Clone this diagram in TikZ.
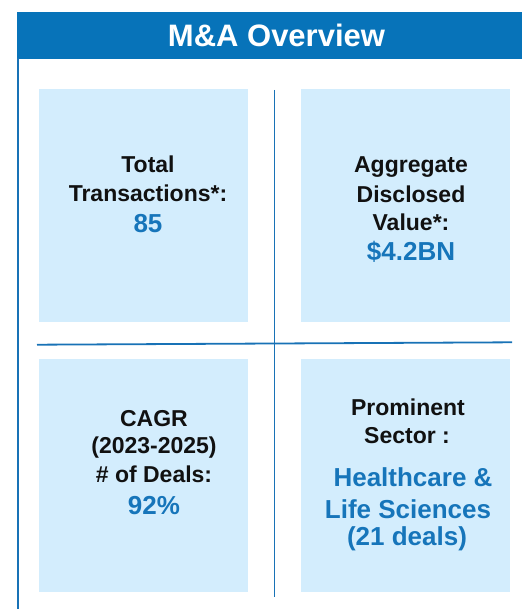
\documentclass[tikz,border=0pt]{standalone}
\usepackage{fontspec}
\setmainfont{Liberation Sans}
\newfontfamily\bluefnt{Liberation Sans}
\definecolor{hdrblue}{HTML}{0773B9}
\definecolor{boxfill}{HTML}{D3EDFD}
\definecolor{valblue}{HTML}{1675BA}
\definecolor{lineblue}{HTML}{1872B6}
\definecolor{txtblack}{HTML}{111111}
\tikzset{
  panelbox/.style={fill=boxfill, draw=none, minimum width=209pt, minimum height=233pt, inner sep=0pt, anchor=north west},
  lbl/.style={anchor=base, inner sep=0pt, text=txtblack, font=\fontsize{23}{28}\selectfont\bfseries},
  val/.style={anchor=base, inner sep=0pt, text=valblue, font=\fontsize{26}{30}\selectfont\bluefnt\bfseries},
  divider/.style={draw=lineblue, line width=1.8pt},
}
\begin{document}
\begin{tikzpicture}[x=1pt,y=-1pt]
\useasboundingbox (0,0) rectangle (522,609);
% frame and header
\node[fill=hdrblue, draw=none, inner sep=0pt, minimum width=505.5pt, minimum height=47pt, anchor=north west] (hdr) at (16.5,11.5) {};
\node[anchor=base, inner sep=0pt, text=white, font=\fontsize{31}{36}\selectfont\bfseries] (title) at (276.5,46.7) {M\&A Overview};
\coordinate (bl1) at (17.6,58);
\coordinate (bl2) at (17.6,609);
\draw[draw=lineblue, line width=2pt] (bl1) -- (bl2);
% boxes
\node[panelbox] (b1) at (39,89) {};
\node[panelbox] (b2) at (301,89) {};
\node[panelbox] (b3) at (39,359) {};
\node[panelbox] (b4) at (301,359) {};
% dividers
\coordinate (v1) at (274.5,90);
\coordinate (v2) at (274.5,597);
\coordinate (h1) at (37,344.7);
\coordinate (h2) at (512,342.3);
\draw[divider] (v1) -- (v2);
\draw[divider] (h1) -- (h2);
% texts box 1
\node[lbl] (t1a) at (148,173) {Total};
\node[lbl] (t1b) at (148,202) {Transactions*:};
\node[val] (t1c) at (148,233) {85};
% box 2
\node[lbl] (t2a) at (411,173) {Aggregate};
\node[lbl] (t2b) at (411,202.5) {Disclosed};
\node[lbl] (t2c) at (411,230.7) {Value*:};
\node[val] (t2d) at (411,260.5) {\$4.2BN};
% box 3
\node[lbl] (t3a) at (154,426) {CAGR};
\node[lbl] (t3b) at (154,453.5) {(2023-2025)};
\node[lbl] (t3c) at (154,482.7) {\# of Deals:};
\node[val] (t3d) at (154,514) {92\%};
% box 4
\node[lbl] (t4a) at (408,415) {Prominent};
\node[lbl] (t4b) at (407,443) {Sector :};
\node[val] (t4c) at (413,486) {Healthcare \&};
\node[val] (t4d) at (408,518) {Life Sciences};
\node[val] (t4e) at (407,545.5) {(21 deals)};
\end{tikzpicture}
\end{document}
